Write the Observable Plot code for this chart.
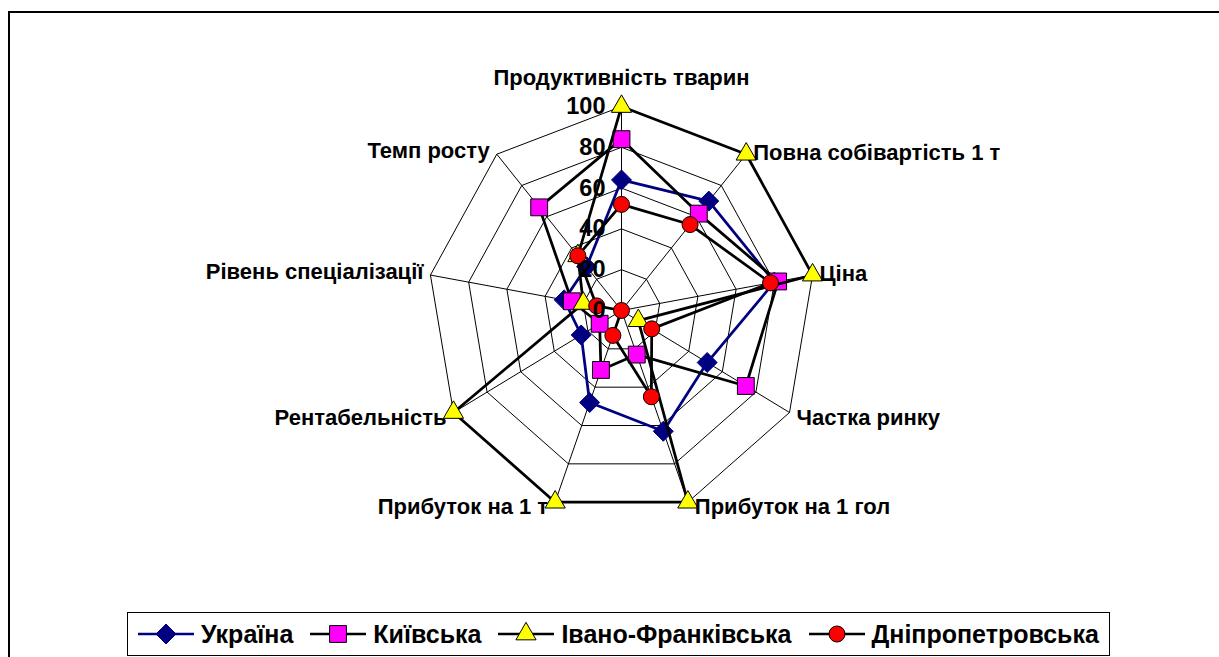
<!DOCTYPE html>
<html><head><meta charset="utf-8">
<script src="https://cdn.jsdelivr.net/npm/d3@7"></script>
<script src="https://cdn.jsdelivr.net/npm/@observablehq/plot@0.6"></script>
<style>
body{margin:0;width:1219px;height:657px;overflow:hidden;background:#fff;font-family:"Liberation Sans",Arial,sans-serif;position:relative}
#frame{position:absolute;left:8px;top:11px;width:1400px;height:900px;border:2px solid #000;z-index:2;pointer-events:none}
#chart{position:absolute;left:0;top:0}
#legend{position:absolute;left:127px;top:612px;width:983px;height:44px;border:1.5px solid #000;box-sizing:border-box;display:flex;align-items:center;font-weight:bold;font-size:25px;background:#fff;padding-left:10px;white-space:nowrap}
.item{display:flex;align-items:center;margin-right:17px}
.item svg{margin-right:7px}
</style></head><body>
<div id="chart"></div><div id="legend"></div><div id="frame"></div>
<script>
const axes = ["Продуктивність тварин","Повна собівартість 1 т","Ціна","Частка ринку","Прибуток на 1 гол","Прибуток на 1 т","Рентабельність","Рівень спеціалізації","Темп росту"];
const seriesNames = ["Україна","Київська","Івано-Франківська","Дніпропетровська"];
const ukraine = [64,70,80,51,63,48,24,30,28];
const kyiv = [84,62,82,74,23,31,13,26,66];
const ivano = [100,100,100,10,100,100,100,20,35];
const dnipro = [52,55,78,18,45,13,0,13,35];
const ticks = [0,20,40,60,80,100];

const styles = [
  {stroke:"#000080", fill:"#000080", mstroke:"#000080", symbol:"diamond2", r:9},
  {stroke:"#000000", fill:"#FF00FF", mstroke:"#000000", symbol:"square", r:9.5},
  {stroke:"#000000", fill:"#FFFF00", mstroke:"#000000", symbol:"triangle", r:7.5},
  {stroke:"#000000", fill:"#FF0000", mstroke:"#000000", symbol:"circle", r:8}
];
const values = [ukraine, kyiv, ivano, dnipro];

const N = axes.length;
const ang = i => i * 2 * Math.PI / N;
const px = (v,i) => v * Math.sin(ang(i));
const py = (v,i) => v * Math.cos(ang(i));

const rings = [];
ticks.slice(1).forEach(t => { for (let i = 0; i <= N; i++) rings.push({t, x: px(t, i % N), y: py(t, i % N)}); });
const spokes = axes.map((a,i) => ({x2: px(100,i), y2: py(100,i)}));

const seriesMarks = values.flatMap((vals, s) => {
  const st = styles[s];
  const p = vals.map((v,i) => ({x: px(v,i), y: py(v,i)}));
  return [
    Plot.line([...p, p[0]], {x:"x", y:"y", stroke: st.stroke, strokeWidth: 2.75, strokeLinejoin:"miter"}),
    Plot.dot(p, {x:"x", y:"y", symbol: st.symbol, r: st.r, fill: st.fill, stroke: st.mstroke, strokeWidth: 1})
  ];
});

const labels = axes.map((a,i) => ({label:a, i, x: px(100,i), y: py(100,i)}));
const lab = {fontSize: 22, fontWeight: "bold", fill:"#000"};

const plot = Plot.plot({
  width: 1219, height: 600,
  x: {domain: [-100,100], range: [621-194, 621+194], axis: null},
  y: {domain: [-100,100], range: [310+204, 310-204], axis: null},
  style: {background: "transparent", fontFamily: "'Liberation Sans', Arial, sans-serif", overflow: "visible"},
  marks: [
    Plot.line(rings, {x:"x", y:"y", z:"t", stroke:"#000", strokeWidth:1}),
    Plot.link(spokes, {x1: () => 0, y1: () => 0, x2:"x2", y2:"y2", stroke:"#000", strokeWidth:1}),
    ...seriesMarks,
    Plot.text(ticks, {x: () => 0, y: d => d, text: d => String(d), textAnchor:"end", dx:-16, fontSize:23.5, fontWeight:"bold", fill:"#000"}),
    Plot.text(labels.filter(d => d.i === 0), {x:"x", y:"y", text:"label", textAnchor:"middle", dy:-29, ...lab}),
    Plot.text(labels.filter(d => d.i >= 1 && d.i <= 2), {x:"x", y:"y", text:"label", textAnchor:"start", dx:7, dy:-1, ...lab}),
    Plot.text(labels.filter(d => d.i >= 3 && d.i <= 4), {x:"x", y:"y", text:"label", textAnchor:"start", dx:7, dy:5, ...lab}),
    Plot.text(labels.filter(d => d.i >= 5 && d.i <= 6), {x:"x", y:"y", text:"label", textAnchor:"end", dx:-7, dy:5, ...lab}),
    Plot.text(labels.filter(d => d.i >= 7), {x:"x", y:"y", text:"label", textAnchor:"end", dx:-7, dy:-3, ...lab})
  ]
});
document.getElementById("chart").appendChild(plot);

// legend
const legend = document.getElementById("legend");
const symMap = {diamond2: d3.symbolDiamond2, square: d3.symbolSquare, triangle: d3.symbolTriangle, circle: d3.symbolCircle};
seriesNames.forEach((name, s) => {
  const st = styles[s];
  const item = document.createElement("div");
  item.className = "item";
  const svg = d3.create("svg").attr("width", 56).attr("height", 24);
  svg.append("line").attr("x1",0).attr("x2",56).attr("y1",12).attr("y2",12).attr("stroke", st.stroke).attr("stroke-width", 2.5);
  svg.append("path").attr("transform","translate(28,12)")
    .attr("d", d3.symbol(symMap[st.symbol], Math.PI * st.r * st.r)())
    .attr("fill", st.fill).attr("stroke", st.mstroke).attr("stroke-width", 1);
  item.appendChild(svg.node());
  const span = document.createElement("span");
  span.textContent = name;
  item.appendChild(span);
  legend.appendChild(item);
});
</script>
</body></html>
